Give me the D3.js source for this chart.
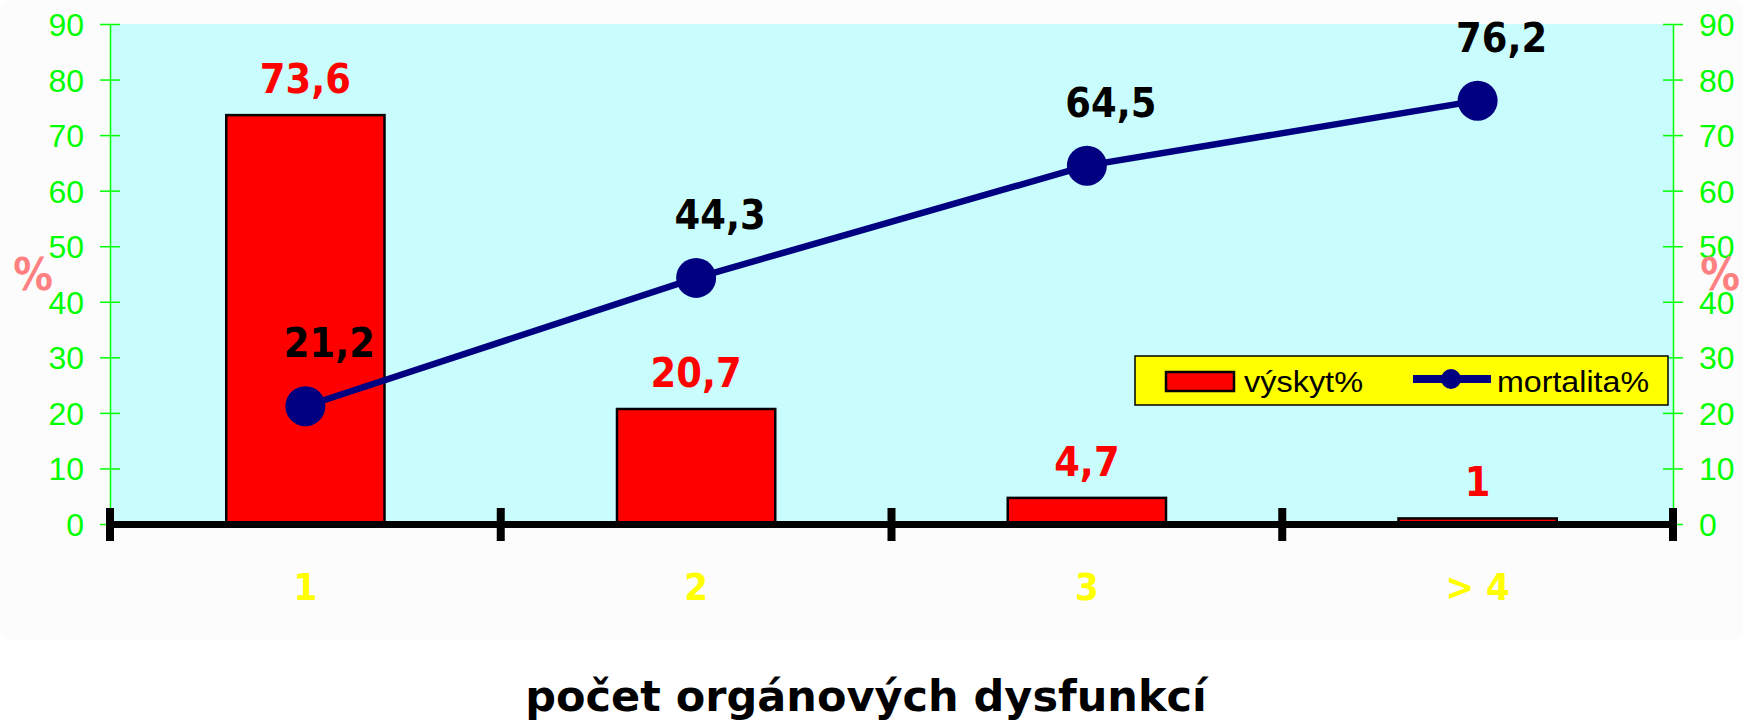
<!DOCTYPE html>
<html>
<head>
<meta charset="utf-8">
<script src="https://cdn.jsdelivr.net/npm/d3@7"></script>
<style>
  html, body { margin: 0; padding: 0; background: #ffffff; }
  svg { display: block; }
</style>
</head>
<body>
<svg id="chart" width="1743" height="725"></svg>
<script>
// ---- data ----
const categories = ["1", "2", "3", "> 4"];
const vyskyt = [73.6, 20.7, 4.7, 1];
const mortalita = [21.2, 44.3, 64.5, 76.2];
const vyskytLabels = ["73,6", "20,7", "4,7", "1"];
const mortalitaLabels = ["21,2", "44,3", "64,5", "76,2"];
const yTicks = [0, 10, 20, 30, 40, 50, 60, 70, 80, 90];
const seriesNames = ["výskyt%", "mortalita%"];
const xTitle = "počet orgánových dysfunkcí";
const yTitle = "%";

(function () {
// ---- layout ----
const W = 1743, H = 725;
const pL = 110, pR = 1673, pT = 24, pB = 524;
const svg = d3.select("#chart");

const x = d3.scaleBand().domain(categories).range([pL, pR]).padding(0);
const y = d3.scaleLinear().domain([0, 90]).range([pB, pT]);

const GREEN = "#00ff00";
const BOLDFONT = "'DejaVu Sans Condensed', 'DejaVu Sans', sans-serif";
const ARIAL = "'Liberation Sans', Arial, sans-serif";

// faint page background
svg.append("rect").attr("x", 0).attr("y", 0).attr("width", W).attr("height", 640)
  .attr("rx", 12).attr("fill", "#fcfcfc");

// plot background
svg.append("rect").attr("x", pL).attr("y", pT)
  .attr("width", pR - pL).attr("height", pB - pT)
  .attr("fill", "#c9fcfc");

// y axes
function styleAxis(g) {
  g.select(".domain").attr("stroke", GREEN).attr("stroke-width", 1.5);
  g.selectAll(".tick line").attr("stroke", GREEN).attr("stroke-width", 1.5)
    .attr("x1", -10).attr("x2", 10);
  g.selectAll(".tick text").attr("fill", GREEN)
    .attr("font-family", ARIAL).attr("font-size", 32).attr("dy", "0.36em");
}
const yAxisL = d3.axisLeft(y).tickValues(yTicks).tickSize(10).tickPadding(16).tickSizeOuter(0);
svg.append("g").attr("transform", `translate(${pL},0)`).call(yAxisL).call(styleAxis)
  .call(g => g.selectAll(".tick text").attr("text-anchor", "end"));
const yAxisR = d3.axisRight(y).tickValues(yTicks).tickSize(10).tickPadding(16).tickSizeOuter(0);
svg.append("g").attr("transform", `translate(${pR},0)`).call(yAxisR).call(styleAxis)
  .call(g => g.selectAll(".tick text").attr("text-anchor", "start"));

// bars
const barW = x.bandwidth() * 0.405;
const cx = (d, i) => x(categories[i]) + x.bandwidth() / 2;
svg.append("g").selectAll("rect").data(vyskyt).join("rect")
  .attr("x", (d, i) => cx(d, i) - barW / 2)
  .attr("y", d => y(d))
  .attr("width", barW)
  .attr("height", d => y(0) - y(d))
  .attr("fill", "#ff0000").attr("stroke", "#000").attr("stroke-width", 2.5);

// x axis line + category boundary ticks
svg.append("line").attr("x1", pL).attr("x2", pR)
  .attr("y1", y(0) + 0.5).attr("y2", y(0) + 0.5)
  .attr("stroke", "#000").attr("stroke-width", 7);
const bounds = categories.map(c => x(c)).concat([x.range()[1]]);
svg.append("g").selectAll("line").data(bounds).join("line")
  .attr("x1", d => d).attr("x2", d => d)
  .attr("y1", y(0) - 16).attr("y2", y(0) + 17)
  .attr("stroke", "#000").attr("stroke-width", 8);

// category labels
const xAxis = d3.axisBottom(x).tickSize(0).tickPadding(0);
svg.append("g").attr("transform", `translate(0,${pB})`).call(xAxis)
  .call(g => g.select(".domain").remove())
  .call(g => g.selectAll(".tick text")
    .attr("fill", "#ffff00").attr("font-family", BOLDFONT).attr("font-weight", "bold")
    .attr("font-size", 38).attr("y", 76).attr("dy", 0));

// mortality line
const line = d3.line().x((d, i) => cx(d, i)).y(d => y(d));
svg.append("path").datum(mortalita).attr("d", line)
  .attr("fill", "none").attr("stroke", "#000080").attr("stroke-width", 6.5);
svg.append("g").selectAll("circle").data(mortalita).join("circle")
  .attr("cx", cx).attr("cy", d => y(d)).attr("r", 20).attr("fill", "#000080");

// bar value labels
svg.append("g").selectAll("text").data(vyskyt).join("text")
  .attr("x", cx).attr("y", d => y(d) - 22)
  .attr("text-anchor", "middle").attr("fill", "#ff0000")
  .attr("font-family", BOLDFONT).attr("font-weight", "bold").attr("font-size", 41)
  .text((d, i) => vyskytLabels[i]);

// line value labels
svg.append("g").selectAll("text").data(mortalita).join("text")
  .attr("x", (d, i) => cx(d, i) + 24).attr("y", d => y(d) - 49)
  .attr("text-anchor", "middle").attr("fill", "#000000")
  .attr("font-family", BOLDFONT).attr("font-weight", "bold").attr("font-size", 41)
  .text((d, i) => mortalitaLabels[i]);

// legend
const lg = svg.append("g");
lg.append("rect").attr("x", 1135).attr("y", 356).attr("width", 533).attr("height", 49)
  .attr("fill", "#ffff00").attr("stroke", "#000").attr("stroke-width", 1.5);
lg.append("rect").attr("x", 1166).attr("y", 372).attr("width", 68).attr("height", 19)
  .attr("fill", "#ff0000").attr("stroke", "#000").attr("stroke-width", 2.5);
lg.append("text").attr("x", 1244).attr("y", 392).text(seriesNames[0])
  .attr("font-family", ARIAL).attr("font-size", 30).attr("fill", "#000")
  .attr("textLength", 119).attr("lengthAdjust", "spacingAndGlyphs");
lg.append("line").attr("x1", 1413).attr("x2", 1491).attr("y1", 379).attr("y2", 379)
  .attr("stroke", "#000080").attr("stroke-width", 8);
lg.append("circle").attr("cx", 1451).attr("cy", 379).attr("r", 10).attr("fill", "#000080");
lg.append("text").attr("x", 1497).attr("y", 392).text(seriesNames[1])
  .attr("font-family", ARIAL).attr("font-size", 30).attr("fill", "#000")
  .attr("textLength", 152).attr("lengthAdjust", "spacingAndGlyphs");

// y titles
[33, 1720].forEach(px => {
  svg.append("text").attr("x", px).attr("y", 290).attr("text-anchor", "middle")
    .attr("fill", "#ff8080").attr("font-family", BOLDFONT).attr("font-weight", "bold")
    .attr("font-size", 44).text(yTitle);
});

// x title
svg.append("text").attr("x", 866).attr("y", 711).attr("text-anchor", "middle")
  .attr("fill", "#000").attr("font-family", "'DejaVu Sans', sans-serif").attr("font-weight", "bold")
  .attr("font-size", 43).text(xTitle);
})();
</script>
</body>
</html>
